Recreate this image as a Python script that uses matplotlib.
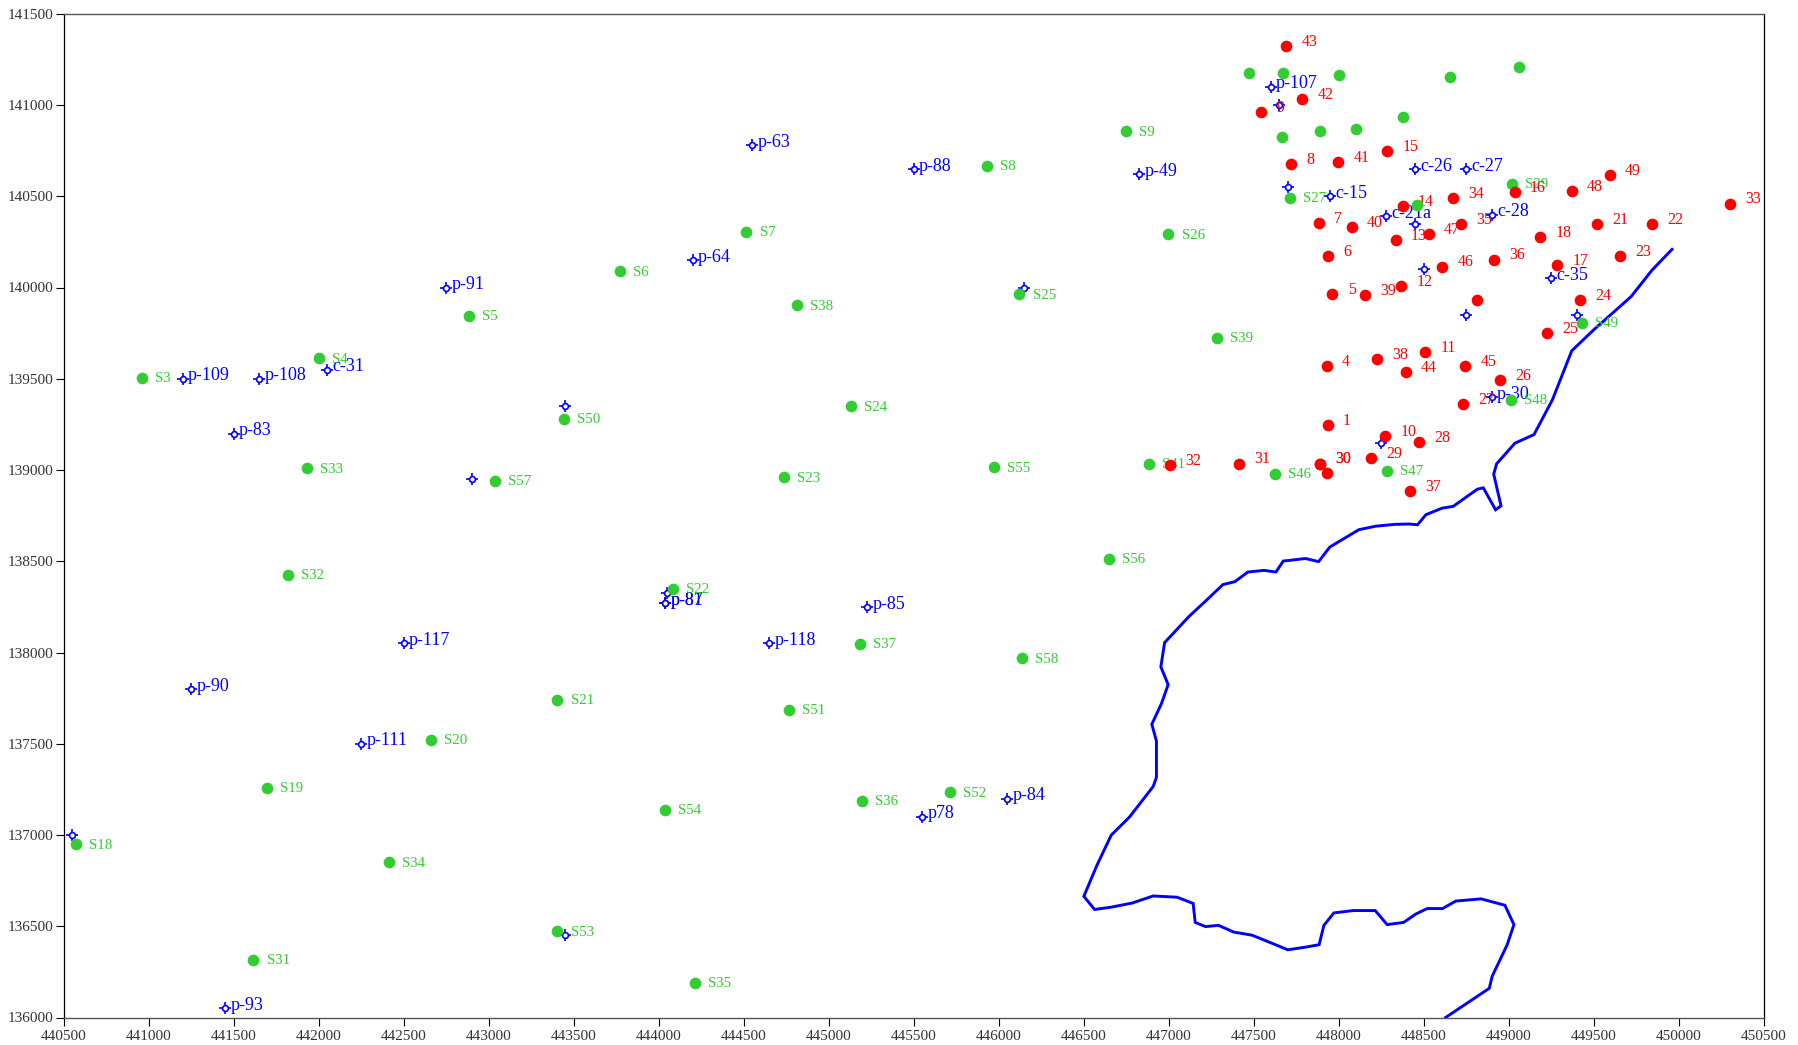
import matplotlib
matplotlib.use("Agg")
import matplotlib.pyplot as plt
import numpy as np

# green sites, drawn under the red ones
green_names = ["S3", "S4", "S5", "S6", "S7", "S8", "S9", "S18", "S19", "S20", "S21", "S22", "S23", "S24",
               "S25", "S26", "S27", "S29", "S31", "S32", "S33", "S34", "S35", "S36", "S37", "S38", "S39",
               "S41", "S46", "S47", "S48", "S50", "S51", "S52", "S53", "S54", "S55", "S56", "S57", "S58"]
green_x = [440963, 442001, 442885, 443775, 444517, 445933, 446749, 440572, 441698, 442663, 443405, 444086,
           444740, 445131, 446123, 446999, 447714, 449022, 441617, 441819, 441934, 442413, 444214, 445198,
           445185, 444814, 447287, 446885, 447626, 448287, 449016, 443444, 444768, 445712, 443405, 444039,
           445974, 446648, 443040, 446136]
green_y = [139506, 139613, 139846, 140090, 140304, 140668, 140856, 136950, 137258, 137522, 137741, 138350,
           138959, 139348, 139964, 140291, 140492, 140567, 136316, 138426, 139010, 136850, 136190, 137189,
           138049, 139902, 139726, 139035, 138978, 138997, 139386, 139280, 137685, 137233, 136473, 137139,
           139016, 138515, 138941, 137968]

# green sites drawn above the red ones
green_top_names = ["S49", "", "", "", "", "", "", "", "", "", ""]
green_top_x = [449434, 447471, 447673, 448004, 448658, 449063, 448378, 448100, 447889, 447667, 448459]
green_top_y = [139807, 141175, 141175, 141162, 141156, 141208, 140932, 140869, 140856, 140825, 140454]

red_names = ["43", "42", "9", "8", "41", "15", "34", "16", "48", "49", "33", "14", "7", "40", "13", "47",
             "35", "18", "21", "22", "23", "6", "46", "36", "17", "5", "39", "12", "", "24", "25", "4", "38",
             "11", "44", "45", "26", "27", "1", "10", "28", "29", "30", "30", "", "31", "32", "37"]
red_x = [447694, 447788, 447546, 447721, 447997, 448287, 448672, 449036, 449373, 449596, 450304, 448378,
         447883, 448079, 448336, 448531, 448720, 449185, 449522, 449846, 449657, 447937, 448611, 448915,
         449286, 447964, 448153, 448369, 448814, 449420, 449225, 447930, 448227, 448510, 448395, 448746,
         448948, 448733, 447937, 448274, 448476, 448193, 447889, 447890, 447930, 447417, 447006, 448422]
red_y = [141321, 141032, 140963, 140674, 140686, 140749, 140492, 140523, 140530, 140618, 140460, 140448,
         140354, 140329, 140260, 140291, 140347, 140278, 140347, 140347, 140172, 140172, 140115, 140153,
         140121, 139964, 139958, 140008, 139933, 139933, 139750, 139570, 139608, 139645, 139538, 139570,
         139494, 139362, 139248, 139186, 139154, 139066, 139035, 139035, 138985, 139035, 139029, 138884]

well_names = ["p-107", "", "c-26", "c-27", "", "c-15", "c-21a", "", "c-28", "", "c-35", "", "", "p-30", "",
              "p-63", "p-88", "p-49", "p-64", "p-91", "p-109", "p-108", "c-31", "p-83", "", "", "",
              "", "p-87", "p-81", "p-85", "p-117", "p-118", "p-90", "p-111", "p-84", "p78", "", "", "p-93"]
well_x = [447600, 447650, 448450, 448750, 447700, 447950, 448280, 448450, 448900, 448500, 449250, 448750,
          449400, 448900, 448250, 444550, 445500, 446825, 444200, 442750, 441200, 441650, 442050, 441500,
          443450, 442900, 446150, 444050, 444040, 444040, 445225, 442500, 444650, 441250, 442250, 446050,
          445550, 440550, 443450, 441450]
well_y = [141100, 141000, 140650, 140650, 140550, 140500, 140390, 140350, 140400, 140100, 140050, 139850,
          139850, 139400, 139150, 140780, 140650, 140620, 140150, 140000, 139500, 139500, 139550, 139200,
          139350, 138950, 140000, 138325, 138270, 138270, 138250, 138050, 138050, 137800, 137500, 137200,
          137100, 137000, 136450, 136050]

coast_x = [448630, 448887, 448904, 448992, 449032, 448979, 448839, 448690, 448612, 448522, 448455, 448383,
           448286, 448216, 448086, 447973, 447914, 447886, 447816, 447702, 447600, 447492, 447384, 447294,
           447218, 447157, 447145, 447051, 446910, 446786, 446659, 446565, 446502, 446580, 446663, 446771,
           446910, 446929, 446929, 446902, 446959, 446998, 446955, 446977, 447120, 447208, 447320, 447390,
           447467, 447561, 447632, 447675, 447806, 447883, 447949, 448120, 448218, 448330, 448414, 448465,
           448514, 448610, 448675, 448817, 448852, 448924, 448956, 448913, 448930, 449038, 449150, 449258,
           449372, 449500, 449721, 449845, 449962]
coast_y = [136000, 136160, 136226, 136398, 136509, 136615, 136650, 136638, 136597, 136597, 136567, 136521,
           136509, 136586, 136586, 136573, 136505, 136399, 136387, 136371, 136410, 136451, 136468, 136505,
           136498, 136521, 136625, 136659, 136666, 136627, 136604, 136592, 136664, 136836, 136999, 137099,
           137266, 137316, 137515, 137607, 137721, 137824, 137921, 138054, 138197, 138273, 138372, 138388,
           138441, 138450, 138441, 138501, 138515, 138498, 138578, 138673, 138692, 138702, 138704, 138700,
           138755, 138791, 138801, 138895, 138902, 138782, 138804, 138977, 139034, 139147, 139194, 139384,
           139653, 139767, 139950, 140096, 140209]

x_ticks = np.arange(440500, 451000, 500)
y_ticks = np.arange(136000, 142000, 500)

plt.rcParams['font.family'] = ['Liberation Serif', 'DejaVu Serif']

fig = plt.figure(figsize=(17.98, 10.45), dpi=100)
ax = fig.add_axes([63.5 / 1798, 27.5 / 1045, 1700 / 1798, 1003.75 / 1045])


def label_points(xs, ys, names, color, size, dx, dy, zorder):
    for x, y, name in zip(xs, ys, names):
        if name:
            ax.annotate(name, (x, y), xytext=(dx, dy), textcoords='offset points', color=color,
                        fontsize=size, va='center', ha='left', zorder=zorder, annotation_clip=False)


ax.plot(coast_x, coast_y, color='#0000ff', lw=2.1, solid_joinstyle='miter', zorder=1)

# wells first, everything else sits on top of them
ax.plot(well_x, well_y, ls='', marker='+', ms=8.8, mew=1.2, color='#0000ff', zorder=2)
ax.plot(well_x, well_y, ls='', marker='o', ms=4.2, mew=1.2, mec='#0000ff', mfc='white', zorder=3)
label_points(well_x, well_y, well_names, '#0000ff', 13, 4, 2, 4)

ax.plot(green_x, green_y, ls='', marker='o', ms=8.4, mew=0, color='#33cc33', zorder=5)
label_points(green_x, green_y, green_names, '#33cc33', 10.7, 9.5, -0.7, 6)

ax.plot(red_x, red_y, ls='', marker='o', ms=8.4, mew=0, color='#ff0000', zorder=7)
label_points(red_x, red_y, red_names, '#ff0000', 11.5, 11, 3, 8)

ax.plot(green_top_x, green_top_y, ls='', marker='o', ms=8.4, mew=0, color='#33cc33', zorder=9)
label_points(green_top_x, green_top_y, green_top_names, '#33cc33', 10.7, 9.5, -0.7, 10)

ax.set_xlim(440500, 450500)
ax.set_ylim(136000, 141500)
ax.set_xticks(x_ticks)
ax.set_yticks(y_ticks)
ax.tick_params(axis='both', length=5.5, width=0.8, labelsize=11, labelcolor='#333333', pad=1.5)
ax.tick_params(axis='x', pad=3.5)

for side in ['left', 'right']:
    ax.spines[side].set_linewidth(0.9)
    ax.spines[side].set_color('black')
for side in ['top', 'bottom']:
    ax.spines[side].set_linewidth(1.0)
    ax.spines[side].set_color('#555555')

fig.savefig('out.png', dpi=100)
